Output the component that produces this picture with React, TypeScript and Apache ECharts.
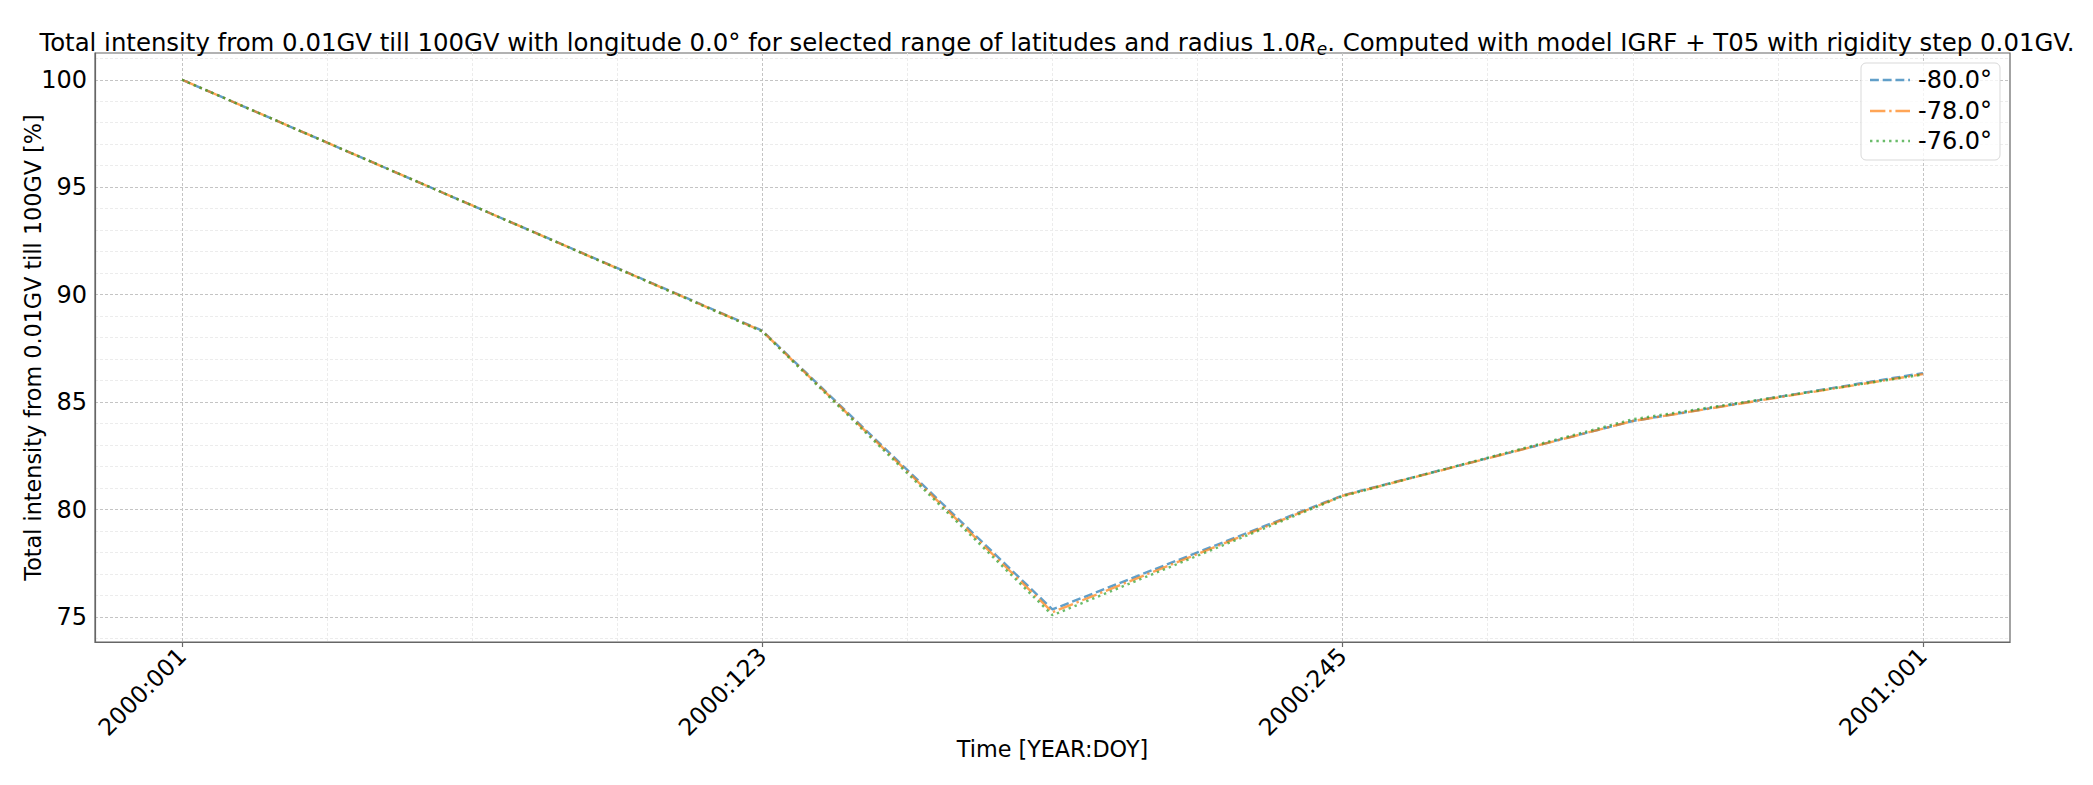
import React, { useEffect, useRef } from "react";
import * as echarts from "echarts";

// Time axis: days since 2000:001
const dayOffsets = [0, 61, 122, 183, 244, 305, 366];
const seriesNames = ["-80.0°", "-78.0°", "-76.0°"];
const lat80 = [100, 94.15, 88.32, 75.35, 80.66, 84.12, 86.35];
const lat78 = [100, 94.15, 88.3, 75.22, 80.64, 84.12, 86.3];
const lat76 = [100, 94.15, 88.28, 75.08, 80.62, 84.2, 86.28];

const xTickDays = [0, 122, 244, 366];
const xTickLabels = ["2000:001", "2000:123", "2000:245", "2001:001"];
const xMinorDays = [30.5, 61, 91.5, 152.5, 183, 213.5, 274.5, 305, 335.5];
const yTicks = [75, 80, 85, 90, 95, 100];
const yMinorTicks = [74, 76, 77, 78, 79, 81, 82, 83, 84, 86, 87, 88, 89, 91, 92, 93, 94, 96, 97, 98, 99, 101];

const colors = ["rgba(31,119,180,0.7)", "rgba(255,127,14,0.7)", "rgba(44,160,44,0.7)"];
const LW = 2.4;
const dashes: number[][] = [
  [3.7 * LW, 1.6 * LW],
  [6.4 * LW, 1.6 * LW, 1 * LW, 1.6 * LW],
  [1 * LW, 1.65 * LW],
];

const FONT = "DejaVu Sans";

export default function App() {
  const ref = useRef<HTMLDivElement>(null);
  useEffect(() => {
    document.body.style.margin = "0";
    if (!ref.current) return;
    const chart = echarts.init(ref.current, undefined, { renderer: "svg" });

    const allVals = [...lat80, ...lat78, ...lat76];
    const vMin = Math.min(...allVals);
    const vMax = Math.max(...allVals);
    const vPad = (vMax - vMin) * 0.05;
    const dMin = Math.min(...dayOffsets);
    const dMax = Math.max(...dayOffsets);
    const dPad = (dMax - dMin) * 0.05;
    const xMin = dMin - dPad;
    const xMax = dMax + dPad;
    const yMin = vMin - vPad;
    const yMax = vMax + vPad;

    const datasets = [lat80, lat78, lat76];
    const series = datasets.map((vals, i) => ({
      name: seriesNames[i],
      type: "line",
      xAxisIndex: 0,
      yAxisIndex: 0,
      data: dayOffsets.map((d, j) => [d, vals[j]]),
      showSymbol: false,
      symbol: "none",
      lineStyle: { color: colors[i], width: LW, type: dashes[i], cap: "butt" },
      itemStyle: { color: colors[i] },
      z: 3 + i,
    }));

    // legend drawn as graphic elements (line samples + labels)
    const legX = 1861;
    const legY = 63;
    const legW = 139;
    const legH = 97;
    const rowY = [80, 111, 141];
    const legendEls: any[] = [
      {
        type: "rect",
        shape: { x: legX, y: legY, width: legW, height: legH, r: 5 },
        style: { fill: "rgba(255,255,255,0.8)", stroke: "#d9d9d9", lineWidth: 1 },
        z: 100,
      },
    ];
    seriesNames.forEach((nm, i) => {
      legendEls.push({
        type: "line",
        shape: { x1: 1870, y1: rowY[i], x2: 1910, y2: rowY[i] },
        style: { stroke: colors[i], lineWidth: LW, lineDash: dashes[i], lineCap: "butt" },
        z: 101,
      });
      legendEls.push({
        type: "text",
        x: 1918,
        y: rowY[i],
        style: { text: nm, fontFamily: FONT, fontSize: 24, fill: "#000", verticalAlign: "middle", align: "left" },
        z: 101,
      });
    });

    chart.setOption({
      animation: false,
      backgroundColor: "#ffffff",
      textStyle: { fontFamily: FONT, color: "#000" },
      title: {
        text: "Total intensity from 0.01GV till 100GV with longitude 0.0° for selected range of latitudes and radius 1.0{i|R}{s|e}. Computed with model IGRF + T05 with rigidity step 0.01GV.",
        left: 1052,
        textAlign: "center",
        top: 22,
        textStyle: {
          fontFamily: FONT,
          fontSize: 24.4,
          fontWeight: "normal",
          color: "#000",
          lineHeight: 30,
          rich: {
            i: { fontFamily: FONT, fontSize: 24.4, fontStyle: "italic", color: "#000", lineHeight: 30 },
            s: { fontFamily: FONT, fontSize: 17, fontStyle: "italic", color: "#000", lineHeight: 30, verticalAlign: "bottom", padding: [10, 0, 0, 0] },
          },
        },
      },
      graphic: legendEls,
      grid: {
        left: 95,
        right: 83,
        top: 53,
        bottom: 143,
        show: true,
        borderColor: "#666",
        borderWidth: 1.2,
        backgroundColor: "transparent",
      },
      xAxis: [
        {
          type: "value",
          min: xMin,
          max: xMax,
          position: "bottom",
          name: "Time [YEAR:DOY]",
          nameLocation: "middle",
          nameGap: 96,
          nameMoveOverlap: false,
          nameTextStyle: { fontFamily: FONT, fontSize: 22.3, color: "#000" },
          axisLine: { show: true, onZero: false, lineStyle: { color: "#666", width: 1.2 } },
          axisTick: { show: true, length: 5, lineStyle: { color: "#666", width: 1.2 }, customValues: xTickDays },
          axisLabel: {
            customValues: xTickDays,
            rotate: 45,
            margin: 10,
            fontFamily: FONT,
            fontSize: 23.5,
            color: "#000",
            formatter: (v: number) => {
              const idx = xTickDays.findIndex((d) => Math.abs(d - v) < 1e-6);
              return idx >= 0 ? xTickLabels[idx] : "";
            },
          },
          splitLine: { show: true, lineStyle: { color: "#c4c4c4", width: 1, type: [3, 2] } },
          z: 2,
        },
        {
          type: "value",
          min: xMin,
          max: xMax,
          position: "top",
          axisLine: { show: false, onZero: false },
          axisTick: { show: false, customValues: xMinorDays },
          axisLabel: { show: false, customValues: xMinorDays },
          splitLine: { show: true, lineStyle: { color: "#ececec", width: 1, type: [3, 2] } },
          z: 1,
        },
      ],
      yAxis: [
        {
          type: "value",
          min: yMin,
          max: yMax,
          position: "left",
          name: "Total intensity from 0.01GV till 100GV [%]",
          nameLocation: "middle",
          nameGap: 51,
          nameMoveOverlap: false,
          nameTextStyle: { fontFamily: FONT, fontSize: 22.3, color: "#000" },
          axisLine: { show: true, onZero: false, lineStyle: { color: "#666", width: 1.2 } },
          axisTick: { show: false, customValues: yTicks },
          axisLabel: {
            customValues: yTicks,
            margin: 8,
            fontFamily: FONT,
            fontSize: 24,
            color: "#000",
            formatter: (v: number) => String(Math.round(v)),
          },
          splitLine: { show: true, lineStyle: { color: "#c4c4c4", width: 1, type: [3, 2] } },
          z: 2,
        },
        {
          type: "value",
          min: yMin,
          max: yMax,
          position: "right",
          axisLine: { show: false, onZero: false },
          axisTick: { show: false, customValues: yMinorTicks },
          axisLabel: { show: false, customValues: yMinorTicks },
          splitLine: { show: true, lineStyle: { color: "#ececec", width: 1, type: [3, 2] } },
          z: 1,
        },
      ],
      series,
    });
    return () => chart.dispose();
  }, []);
  return <div ref={ref} style={{ width: 2093, height: 785 }} />;
}
